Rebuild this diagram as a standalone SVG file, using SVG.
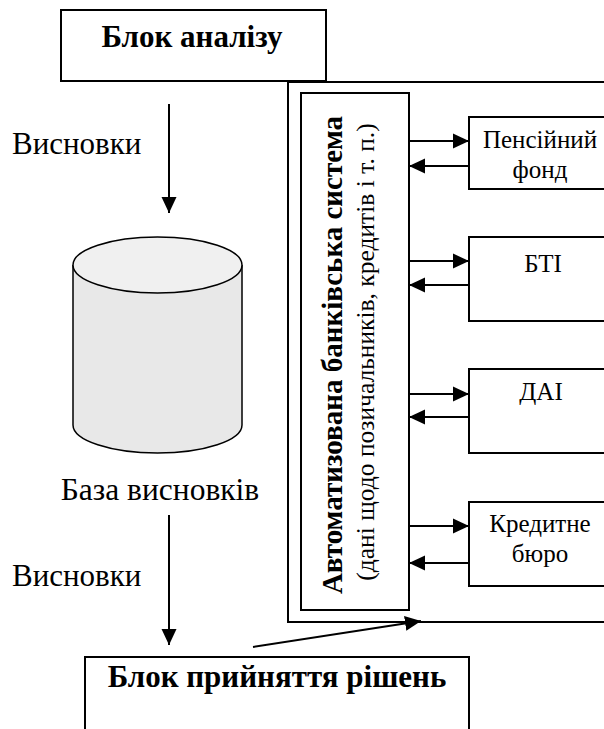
<svg xmlns="http://www.w3.org/2000/svg" width="604" height="729" viewBox="0 0 604 729">
<defs>
<marker id="ah" markerUnits="userSpaceOnUse" markerWidth="16" markerHeight="16" viewBox="0 0 16 16" refX="16" refY="8" orient="auto">
<path d="M0,0.5 L16,8 L0,15.5 Z" fill="#000"/>
</marker>
<style>
.box{fill:#fff;stroke:#000;stroke-width:2}
.b{font-weight:bold}
.c{stroke:#000;stroke-width:2;fill:none;marker-end:url(#ah)}
</style>
</defs>
<rect width="604" height="729" fill="#fff"/>

<g id="outer-frame">
<rect x="288" y="82" width="330" height="540" fill="none" stroke="#000" stroke-width="2"/>
</g>

<g font-family="Liberation Serif, Times New Roman, Times, serif" fill="#000">
<g id="blok-analizu">
<rect class="box" x="61" y="10" width="265" height="71"/>
<text class="b" x="192" y="47" font-size="31" text-anchor="middle">Блок аналізу</text>
</g>

<g id="label-vysnovky-1">
<text x="12" y="154" font-size="31">Висновки</text>
</g>

<g id="baza">
<path d="M73,265 L73,425 A84.5,28 0 0 0 242,425 L242,265" fill="#e8e8e8" stroke="#000" stroke-width="1.5"/>
<ellipse cx="157.5" cy="265" rx="84.5" ry="28" fill="#f0f0f0" stroke="#000" stroke-width="1.5"/>
<text x="160" y="500" font-size="31.5" text-anchor="middle">База висновків</text>
</g>

<g id="label-vysnovky-2">
<text x="12" y="586" font-size="31">Висновки</text>
</g>

<g id="abs">
<rect class="box" x="301" y="93" width="108" height="517"/>
<text class="b" transform="translate(342,355) rotate(-90)" font-size="29" text-anchor="middle">Автоматизована банківська система</text>
<text transform="translate(374,352) rotate(-90)" font-size="25.5" text-anchor="middle">(дані щодо позичальників, кредитів і т. п.)</text>
</g>

<g id="pensiynyi">
<rect class="box" x="469" y="117" width="142" height="72"/>
<text x="540" y="148" font-size="25" text-anchor="middle">Пенсійний</text>
<text x="540" y="178" font-size="25" text-anchor="middle">фонд</text>
</g>

<g id="bti">
<rect class="box" x="469" y="237" width="142" height="84"/>
<text x="543" y="272" font-size="25" text-anchor="middle">БТІ</text>
</g>

<g id="dai">
<rect class="box" x="469" y="369" width="142" height="84"/>
<text x="541" y="400" font-size="25" text-anchor="middle">ДАІ</text>
</g>

<g id="kredytne-buro">
<rect class="box" x="469" y="502" width="142" height="84"/>
<text x="540" y="532" font-size="25" text-anchor="middle">Кредитне</text>
<text x="540" y="562" font-size="25" text-anchor="middle">бюро</text>
</g>

<g id="blok-pryiniattia">
<rect class="box" x="85" y="657" width="384" height="90"/>
<text class="b" x="277" y="687" font-size="31" text-anchor="middle">Блок прийняття рішень</text>
</g>
</g>

<g id="connectors">
<line class="c" x1="169" y1="104" x2="169" y2="213"/>
<line class="c" x1="169" y1="515" x2="169" y2="645"/>
<line class="c" x1="253" y1="647" x2="421" y2="621"/>
<line class="c" x1="409" y1="141" x2="469" y2="141"/>
<line class="c" x1="469" y1="166" x2="409" y2="166"/>
<line class="c" x1="409" y1="261" x2="469" y2="261"/>
<line class="c" x1="469" y1="285" x2="409" y2="285"/>
<line class="c" x1="409" y1="394" x2="469" y2="394"/>
<line class="c" x1="469" y1="417" x2="409" y2="417"/>
<line class="c" x1="409" y1="526" x2="469" y2="526"/>
<line class="c" x1="469" y1="563" x2="409" y2="563"/>
</g>
</svg>
